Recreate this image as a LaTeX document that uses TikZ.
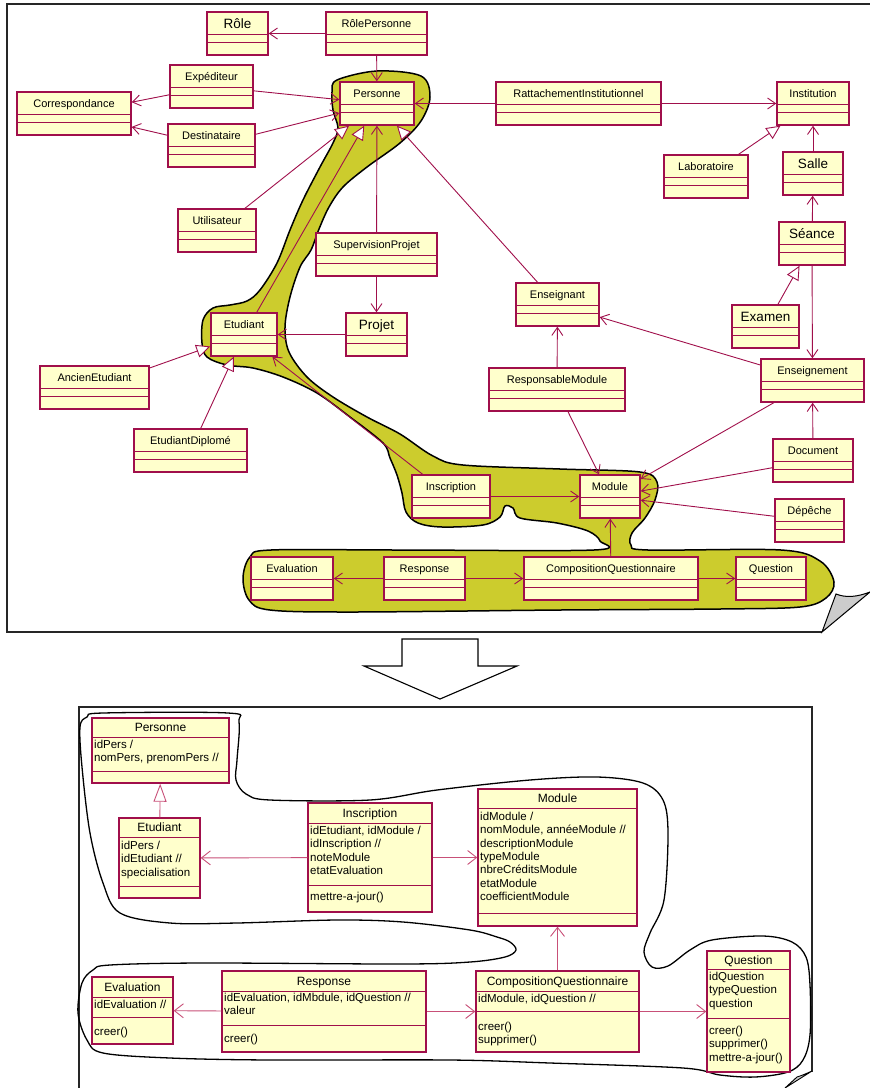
\documentclass[tikz,border=0pt]{standalone}
\usepackage{fontspec}
\setmainfont{Liberation Sans}
\usetikzlibrary{arrows.meta}

\definecolor{umlred}{RGB}{160,15,75}
\definecolor{umlpink}{RGB}{200,80,120}
\definecolor{umlfill}{RGB}{255,255,204}
\definecolor{blobfill}{RGB}{204,204,45}

\begin{document}
\begin{tikzpicture}[x=1pt,y=-1pt]
    \tikzset{
        classbox/.style={draw=umlred, fill=umlfill, line width=1.4pt, inner sep=0pt},
        compline/.style={umlred, line width=1pt},
        classname/.style={font=\fontsize{11}{13}\selectfont, inner sep=0pt, anchor=base},
        bigname/.style={font=\fontsize{13.5}{15}\selectfont, inner sep=0pt, anchor=base},
        detailname/.style={font=\fontsize{12}{14}\selectfont, inner sep=0pt, anchor=base},
        members/.style={font=\fontsize{11.5}{13.3}\selectfont, inner sep=0pt, anchor=north west, align=left},
        assoc/.style={umlred, line width=0.9pt, -{Straight Barb[length=8pt,width=11pt]}},
        inherit/.style={umlred, line width=0.9pt, -{Triangle[open,length=14pt,width=13pt,fill=white]}},
        lassoc/.style={umlpink, line width=0.9pt, -{Straight Barb[length=9pt,width=14pt]}},
        linherit/.style={umlpink, line width=0.9pt, -{Triangle[open,length=18pt,width=13pt,fill=white]}},
        frame/.style={line width=1.6pt, black!85}
    }
    \useasboundingbox (0,0) rectangle (870,1088);

    % --- 1. MODELE COMPLET ---
    \draw[frame] (870,4) -- (7,4) -- (7,632) -- (822,632);
    \filldraw[fill=gray!40, line width=1pt] (822,632) -- (836,594) .. controls (846,598) and (857,597) .. (870,592) -- cycle;

    % Zone selectionnee
    \filldraw[fill=blobfill, draw=black, line width=1.5pt] plot[smooth cycle, tension=0.55] coordinates {
        (337,80) (377,71) (421,76) (430,97) (421,121) (400,143) (367,167) (343,187)
        (329,207) (319,229) (311,250) (300,267) (290,297) (285,327) (289,352) (307,377)
        (333,397) (367,417) (400,434) (433,456) (463,465) (560,469) (640,472) (657,482)
        (655,500) (645,518) (632,533) (631,545) (648,550) (781,550) (820,561) (834,582)
        (826,598) (800,607) (720,609) (560,610) (352,612) (270,610) (249,600) (243,578)
        (250,557) (271,550) (400,550) (594,550) (600,541) (588,531) (557,523) (520,518)
        (513,508) (505,506) (500,517) (483,525) (442,527) (418,523) (406,512) (402,493)
        (397,475) (390,458) (383,443) (350,417) (317,393) (283,377) (253,368) (227,365)
        (207,357) (202,343) (203,320) (213,308) (230,305) (247,301) (260,290) (277,263)
        (290,230) (303,200) (320,167) (333,143) (338,128) (333,110) (332,92)};

    % Classes
    \foreach \nm/\lbl/\xa/\ya/\xb in {rolepers/RôlePersonne/326/12/427, exped/Expéditeur/170/65/253,
        corresp/Correspondance/17/92/131, destin/Destinataire/168/124/255, pers/Personne/340/82/414,
        util/Utilisateur/178/209/256, superv/SupervisionProjet/316/233/437,
        ratt/RattachementInstitutionnel/496/82/661, instit/Institution/777/82/849,
        labo/Laboratoire/664/155/748, etud/Etudiant/211/313/277, ancien/AncienEtudiant/40/366/149,
        diplome/EtudiantDiplomé/134/429/247, enseignant/Enseignant/516/283/599,
        enseignement/Enseignement/761/359/864, respmod/ResponsableModule/489/368/625,
        document/Document/773/439/853, inscr/Inscription/412/475/490, module/Module/580/475/640,
        depeche/Dépêche/775/499/844, eval/Evaluation/251/557/333, response/Response/384/557/465,
        compo/CompositionQuestionnaire/524/557/698, question/Question/736/557/806} {
        \node[classbox, minimum width={(\xb-\xa)*1pt}, minimum height=43pt] (\nm) at ({(\xa+\xb)/2},{\ya+21.5}) {};
        \draw[compline] (\xa,{\ya+22}) -- (\xb,{\ya+22}) (\xa,{\ya+30.5}) -- (\xb,{\ya+30.5});
        \node[classname] (\nm-t) at ({(\xa+\xb)/2},{\ya+15}) {\lbl};
    }
    \foreach \nm/\lbl/\xa/\ya/\xb in {role/Rôle/207/12/268, salle/Salle/783/152/843,
        seance/Séance/779/222/845, projet/Projet/346/313/407, examen/Examen/732/305/799} {
        \node[classbox, minimum width={(\xb-\xa)*1pt}, minimum height=43pt] (\nm) at ({(\xa+\xb)/2},{\ya+21.5}) {};
        \draw[compline] (\xa,{\ya+22}) -- (\xb,{\ya+22}) (\xa,{\ya+30.5}) -- (\xb,{\ya+30.5});
        \node[bigname] (\nm-t) at ({(\xa+\xb)/2},{\ya+16}) {\lbl};
    }

    % Associations
    \draw[assoc] (rolepers) -- (role);
    \draw[assoc] (rolepers) -- (pers);
    \draw[assoc] (exped) -- (corresp);
    \draw[assoc] (destin) -- (corresp);
    \draw[assoc] (exped) -- (pers);
    \draw[assoc] (destin) -- (pers);
    \draw[assoc] (superv) -- (pers);
    \draw[assoc] (superv) -- (projet);
    \draw[assoc] (projet) -- (etud);
    \draw[assoc] (inscr) -- (etud);
    \draw[assoc] (ratt) -- (pers);
    \draw[assoc] (ratt) -- (instit);
    \draw[assoc] (salle) -- (instit);
    \draw[assoc] (seance) -- (salle);
    \draw[assoc] (seance) -- (enseignement);
    \draw[assoc] (enseignement) -- (enseignant);
    \draw[assoc] (respmod) -- (enseignant);
    \draw[assoc] (respmod) -- (module);
    \draw[assoc] (enseignement) -- (module);
    \draw[assoc] (document) -- (enseignement);
    \draw[assoc] (document) -- (module);
    \draw[assoc] (depeche) -- (module);
    \draw[assoc] (inscr) -- (module);
    \draw[assoc] (compo) -- (module);
    \draw[assoc] (response) -- (eval);
    \draw[assoc] (response) -- (compo);
    \draw[assoc] (compo) -- (question);

    % Heritages
    \draw[inherit] (util) -- (pers);
    \draw[inherit] (etud) -- (pers);
    \draw[inherit] (enseignant) -- (pers);
    \draw[inherit] (ancien) -- (etud);
    \draw[inherit] (diplome) -- (etud);
    \draw[inherit] (labo) -- (instit);
    \draw[inherit] (examen) -- (seance);

    % Fleche de passage
    \filldraw[fill=white, line width=1.1pt] (402,639) -- (478,639) -- (478,666) -- (517,666)
        -- (440,699) -- (364,666) -- (402,666) -- cycle;

    % --- 2. SOUS-MODELE ---
    \draw[frame, line width=1.4pt] (79,1088) -- (79,707) -- (812,707) -- (812,1072);
    \filldraw[fill=gray!40, line width=0.9pt] (785,1088) -- (797,1077) .. controls (803,1075) .. (812,1071) -- cycle;

    \draw[black, line width=1.3pt] plot[smooth cycle, tension=0.55] coordinates {
        (103,713) (228,713) (239,722) (237,760) (236,780) (246,794) (270,800) (370,800)
        (437,790) (530,780) (597,777) (643,783) (663,800) (668,833) (664,900) (650,933)
        (644,952) (652,967) (668,966) (690,950) (712,940) (763,936) (792,942) (806,957)
        (810,985) (810,1035) (803,1060) (788,1072) (755,1077) (720,1075) (683,1068) (550,1063)
        (450,1060) (270,1060) (170,1058) (103,1053) (87,1040) (78,1013) (82,983) (93,970)
        (110,965) (203,963) (403,964) (470,962) (505,957) (516,950) (510,942) (497,937)
        (470,930) (403,922) (337,920) (237,923) (170,923) (120,913) (103,883) (90,833)
        (82,767) (80,727) (87,717)};

    \foreach \nm/\lbl/\xa/\ya/\xb/\yb/\la/\lb in {lpers/Personne/92/718/229/783/737/771,
        letud/Etudiant/119/818/200/898/837/886, linscr/Inscription/308/803/432/912/823/885,
        lmodule/Module/478/789/637/926/808/913, leval/Evaluation/92/977/173/1044/997/1017,
        lresponse/Response/222/971/426/1052/991/1025,
        lcompo/CompositionQuestionnaire/476/971/639/1052/991/1011,
        lquestion/Question/707/951/790/1072/969/1018} {
        \node[classbox, minimum width={(\xb-\xa)*1pt}, minimum height={(\yb-\ya)*1pt}] (\nm) at ({(\xa+\xb)/2},{(\ya+\yb)/2}) {};
        \draw[compline] (\xa,\la) -- (\xb,\la) (\xa,\lb) -- (\xb,\lb);
        \node[detailname] (\nm-t) at ({(\xa+\xb)/2},{(\ya+\la)/2+4.3}) {\lbl};
    }

    % Attributs et operations
    \node[members] (lpers-a) at (94,740) {idPers /\\nomPers, prenomPers //};
    \node[members] (letud-a) at (121,841) {idPers /\\idEtudiant //\\specialisation};
    \node[members] (linscr-a) at (310,826) {idEtudiant, idModule /\\idInscription //\\noteModule\\etatEvaluation};
    \node[members] (linscr-o) at (310,892) {mettre-a-jour()};
    \node[members] (lmodule-a) at (480,812) {idModule /\\nomModule, annéeModule //\\descriptionModule\\typeModule\\nbreCréditsModule\\etatModule\\coefficientModule};
    \node[members] (leval-a) at (94,1000) {idEvaluation //};
    \node[members] (leval-o) at (94,1027) {creer()};
    \node[members] (lresponse-a) at (224,993) {idEvaluation, idMbdule, idQuestion //\\valeur};
    \node[members] (lresponse-o) at (224,1034) {creer()};
    \node[members] (lcompo-a) at (478,994) {idModule, idQuestion //};
    \node[members] (lcompo-o) at (478,1022) {creer()\\supprimer()};
    \node[members] (lquestion-a) at (709,972) {idQuestion\\typeQuestion\\question};
    \node[members] (lquestion-o) at (709,1026) {creer()\\supprimer()\\mettre-a-jour()};

    \draw[linherit] (letud) -- (lpers);
    \draw[lassoc] (linscr) -- (letud);
    \draw[lassoc] (linscr) -- (lmodule);
    \draw[lassoc] (lresponse) -- (leval);
    \draw[lassoc] (lresponse) -- (lcompo);
    \draw[lassoc] (lcompo) -- (lquestion);
    \draw[lassoc] (lcompo) -- (lmodule);

\end{tikzpicture}
\end{document}
